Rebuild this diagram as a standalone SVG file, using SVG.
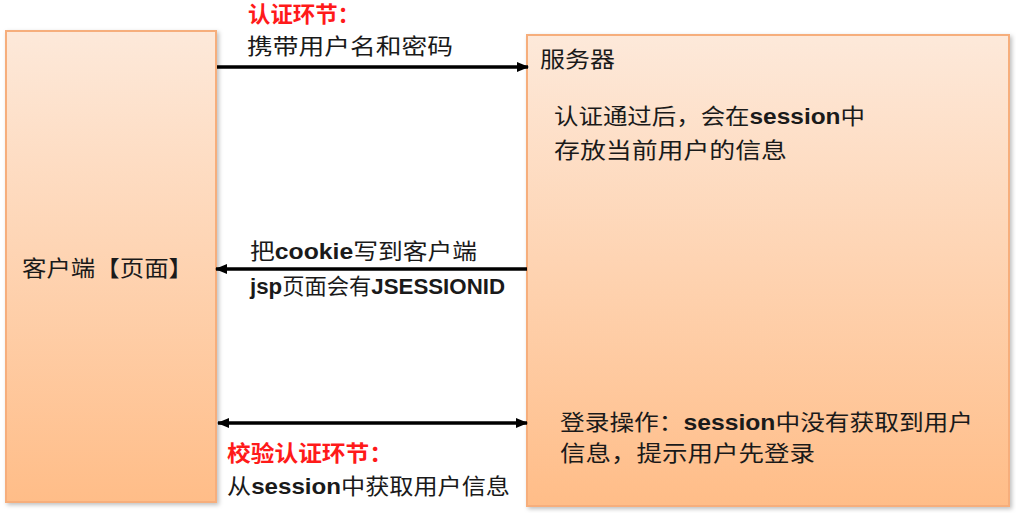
<svg xmlns="http://www.w3.org/2000/svg" width="1016" height="513" viewBox="0 0 1016 513">
<style>
.box{stroke:#f6ae7c;stroke-width:2;}
.t{font-family:"Liberation Sans","Noto Sans CJK SC",sans-serif;font-size:22px;font-weight:normal;fill:#1a1a1a;}
.b{font-weight:bold;}
.r{fill:#ff1a1a;font-weight:bold;}
.conn{stroke:#000;stroke-width:3.5;fill:none;}
</style>
<defs>
<linearGradient id="g" x1="0" y1="0" x2="0" y2="1">
<stop offset="0" stop-color="#fde9da"/>
<stop offset="1" stop-color="#ffbd88"/>
</linearGradient>
<filter id="sh" x="-5%" y="-5%" width="110%" height="110%">
<feDropShadow dx="2" dy="2" stdDeviation="2" flood-color="#000" flood-opacity="0.25"/>
</filter>
<marker id="ah" markerWidth="12" markerHeight="10" refX="11" refY="5" orient="auto-start-reverse" markerUnits="userSpaceOnUse">
<path d="M0,0 L12,5 L0,10 Z" fill="#000"/>
</marker>
</defs>
<rect width="1016" height="513" fill="#fff"/>
<g id="client">
<rect class="box" x="6" y="31" width="210" height="471" fill="url(#g)" filter="url(#sh)"/>
<text class="t" x="22" y="276" textLength="171" lengthAdjust="spacingAndGlyphs">客户端【页面】</text>
</g>
<g id="server">
<rect class="box" x="527" y="35" width="482" height="471" fill="url(#g)" filter="url(#sh)"/>
<text class="t" x="540" y="67" textLength="75" lengthAdjust="spacingAndGlyphs">服务器</text>
<text class="t" x="554" y="124" textLength="311" lengthAdjust="spacingAndGlyphs">认证通过后，会在<tspan class="b">session</tspan>中</text>
<text class="t" x="554" y="158" textLength="233" lengthAdjust="spacingAndGlyphs">存放当前用户的信息</text>
<text class="t" x="560" y="430" textLength="413" lengthAdjust="spacingAndGlyphs">登录操作：<tspan class="b">session</tspan>中没有获取到用户</text>
<text class="t" x="560" y="461" textLength="255" lengthAdjust="spacingAndGlyphs">信息，提示用户先登录</text>
</g>
<g id="connectors">
<line class="conn" x1="217" y1="67" x2="528" y2="67" marker-end="url(#ah)"/>
<line class="conn" x1="527" y1="269" x2="216" y2="269" marker-end="url(#ah)"/>
<line class="conn" x1="218" y1="423" x2="527" y2="423" marker-start="url(#ah)" marker-end="url(#ah)"/>
<text class="t r" x="248" y="22" textLength="112" lengthAdjust="spacingAndGlyphs">认证环节：</text>
<text class="t" x="247" y="54" textLength="206" lengthAdjust="spacingAndGlyphs">携带用户名和密码</text>
<text class="t" x="250" y="259" textLength="227" lengthAdjust="spacingAndGlyphs">把<tspan class="b">cookie</tspan>写到客户端</text>
<text class="t" x="250" y="294" textLength="255" lengthAdjust="spacingAndGlyphs"><tspan class="b">jsp</tspan>页面会有<tspan class="b">JSESSIONID</tspan></text>
<text class="t r" x="227" y="461" textLength="166" lengthAdjust="spacingAndGlyphs">校验认证环节：</text>
<text class="t" x="227" y="494" textLength="283" lengthAdjust="spacingAndGlyphs">从<tspan class="b">session</tspan>中获取用户信息</text>
</g>
</svg>
